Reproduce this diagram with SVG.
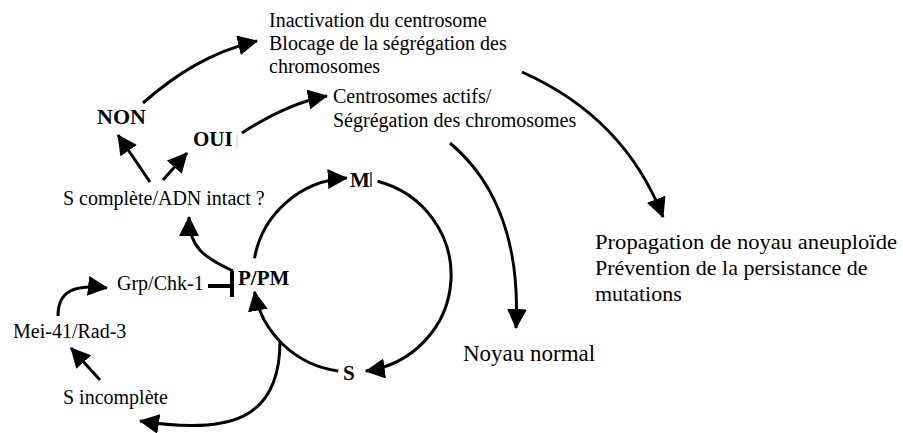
<svg xmlns="http://www.w3.org/2000/svg" width="903" height="433" viewBox="0 0 903 433">
<style>
  text { font-family: 'Liberation Serif', 'DejaVu Serif', serif; fill: #000; }
  .t { font-size: 20px; }
  .b { font-size: 21px; font-weight: bold; }
  .r { font-size: 22px; }
  .c { fill: none; stroke: #000; stroke-width: 3; }
  .a { marker-end: url(#ah); }
</style>
<defs>
  <marker id="ah" viewBox="0 0 20 20" refX="19" refY="10" markerWidth="20" markerHeight="20" markerUnits="userSpaceOnUse" orient="auto">
    <path d="M0,0 L20,10 L0,20 z" fill="#000"/>
  </marker>
</defs>
<rect width="903" height="433" fill="#fff"/>

<g id="connectors">
  <path class="c a" d="M150 182 L118 135"/>
  <path class="c a" d="M163 180 L187 153"/>
  <path class="c a" d="M143 103 C175 75, 210 52, 257 41"/>
  <path class="c a" d="M242 133 C262 120, 295 102, 327 96"/>
  <path class="c a" d="M522 72 C585 100, 635 145, 663 217"/>
  <path class="c a" d="M450 143 C500 185, 520 250, 516 328"/>
  <path class="c a" d="M254.5 258.2 A99 97 0 0 1 346.8 178.1"/>
  <path class="c a" d="M377.6 181.3 A99 97 0 0 1 365.8 371.1"/>
  <path class="c a" d="M338.2 371 A99 97 0 0 1 254.5 291.8"/>
  <path class="c a" d="M233 271 C205 258, 189 248, 189 217"/>
  <path class="c a" d="M58 316 C58 292, 72 284, 107 288"/>
  <path class="c a" d="M100 380 L71 348"/>
  <path class="c a" d="M280 341 C280 420, 230 435, 140 421"/>
  <g id="inhibit">
    <line x1="208" y1="286" x2="232" y2="286" stroke="#000" stroke-width="4"/>
    <line x1="232" y1="271" x2="232" y2="297" stroke="#000" stroke-width="4"/>
  </g>
</g>

<g id="n-inactivation">
  <text class="t" x="269" y="27">Inactivation du centrosome</text>
  <text class="t" x="269" y="50">Blocage de la ségrégation des</text>
  <text class="t" x="269" y="73">chromosomes</text>
</g>
<g id="n-centrosomes">
  <text class="t" x="333" y="103">Centrosomes actifs/</text>
  <text class="t" x="333" y="127">Ségrégation des chromosomes</text>
</g>
<g id="n-non"><text class="b" x="97" y="124" style="font-size:22px">NON</text></g>
<g id="n-oui">
  <text class="b" x="193" y="146">OUI</text>
  <line x1="237" y1="135" x2="237" y2="148" stroke="#ccc" stroke-width="1"/>
</g>
<g id="n-scomplete"><text class="t" x="63" y="205">S complète/ADN intact ?</text></g>
<g id="n-m">
  <text class="b" x="350" y="187">M</text>
  <line x1="371" y1="172" x2="371" y2="187" stroke="#333" stroke-width="1.5"/>
</g>
<g id="n-ppm"><text class="b" x="238" y="285">P/PM</text></g>
<g id="n-s"><text class="b" x="343" y="380">S</text></g>
<g id="n-grp"><text class="t" x="117" y="290">Grp/Chk-1</text></g>
<g id="n-mei"><text class="t" x="13" y="338">Mei-41/Rad-3</text></g>
<g id="n-sincomplete"><text class="t" x="63" y="404">S incomplète</text></g>
<g id="n-noyau"><text class="r" x="463" y="361" style="font-size:23px">Noyau normal</text></g>
<g id="n-propagation">
  <text class="r" x="595" y="249" textLength="302" lengthAdjust="spacingAndGlyphs">Propagation de noyau aneuploïde</text>
  <text class="r" x="595" y="275">Prévention de la persistance de</text>
  <text class="r" x="595" y="301">mutations</text>
</g>
</svg>
